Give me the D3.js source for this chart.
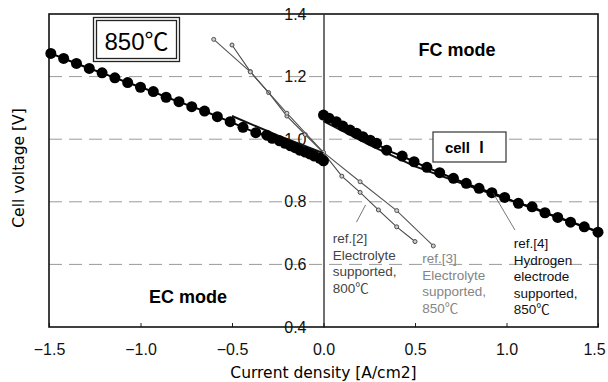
<!DOCTYPE html>
<html>
<head>
<meta charset="utf-8">
<script src="https://cdn.jsdelivr.net/npm/d3@7"></script>
<style>
  body { margin: 0; background: #fff; }
  svg { display: block; font-family: 'Liberation Sans', Arial, 'Noto Sans CJK JP', sans-serif; }
  .title { font-family: 'DejaVu Sans', sans-serif; font-size: 15.5px; }
  .tick text { font-size: 16px; fill: #111; }
</style>
</head>
<body>
<svg id="chart" width="608" height="382"></svg>
<script>
// DATA
const xTicks = [-1.5, -1.0, -0.5, 0.0, 0.5, 1.0, 1.5];
const yTicks = [0.4, 0.6, 0.8, 1.0, 1.2, 1.4];
const gridTicks = [0.6, 0.8, 1.0, 1.2];

// cell I, EC mode (negative current)
const cellEcCurrent = [-1.49, -1.42, -1.35, -1.28, -1.21, -1.14, -1.07, -1.0, -0.93, -0.86, -0.79, -0.72,
  -0.65, -0.58, -0.51, -0.44, -0.37, -0.31, -0.28, -0.24, -0.21, -0.18, -0.155, -0.13, -0.1, -0.075,
  -0.05, -0.02, 0];
const cellEcVoltage = [1.274, 1.258, 1.242, 1.226, 1.212, 1.196, 1.181, 1.166, 1.152, 1.134, 1.12, 1.104,
  1.09, 1.072, 1.056, 1.038, 1.021, 1.013, 1.003, 0.995, 0.987, 0.979, 0.973, 0.965, 0.959, 0.953,
  0.946, 0.939, 0.931];

// cell I, FC mode
const cellFcCurrent = [0, 0.03, 0.07, 0.105, 0.145, 0.18, 0.215, 0.255, 0.29, 0.345, 0.43, 0.495, 0.565,
  0.635, 0.71, 0.78, 0.85, 0.92, 0.99, 1.065, 1.14, 1.21, 1.28, 1.35, 1.425, 1.5];
const cellFcVoltage = [1.077, 1.067, 1.056, 1.042, 1.029, 1.019, 1.008, 0.997, 0.987, 0.965, 0.946, 0.928,
  0.91, 0.893, 0.875, 0.859, 0.843, 0.829, 0.814, 0.795, 0.784, 0.765, 0.75, 0.735, 0.72, 0.703];

// ref.[2] electrolyte supported, 800C
const ref2Current = [-0.5, -0.4, -0.3, -0.2, -0.1, 0, 0.1, 0.2, 0.3, 0.4, 0.5];
const ref2Voltage = [1.301, 1.216, 1.149, 1.074, 1.015, 0.956, 0.882, 0.83, 0.774, 0.72, 0.673];

// ref.[3] electrolyte supported, 850C
const ref3Current = [-0.6, -0.4, -0.2, 0, 0.2, 0.4, 0.6];
const ref3Voltage = [1.319, 1.215, 1.083, 0.958, 0.864, 0.772, 0.659];

// ref.[4] hydrogen electrode supported, 850C
const ref4EcCurrent = [-0.5, -0.25, 0];
const ref4EcVoltage = [1.074, 1.012, 0.955];
const ref4FcCurrent = [0, 0.25, 0.5, 0.75, 1.0, 1.25, 1.5];
const ref4FcVoltage = [1.058, 0.982, 0.913, 0.86, 0.809, 0.757, 0.705];

// leader lines [current, voltage]
const ref2Pointer = [[0.23, 0.79], [0.18, 0.735]];
const ref4Pointer = [[0.928, 0.827], [1.046, 0.71]];

const ref2Lines = ['ref.[2]', 'Electrolyte', 'supported,', '800℃'];
const ref3Lines = ['ref.[3]', 'Electrolyte', 'supported,', '850℃'];
const ref4Lines = ['ref.[4]', 'Hydrogen', 'electrode', 'supported,', '850℃'];

// SETUP
const svg = d3.select('#chart'),
  margin = { top: 14, right: 10, bottom: 55, left: 49 },
  width = +svg.attr('width') - margin.left - margin.right,
  height = +svg.attr('height') - margin.top - margin.bottom;

const x = d3.scaleLinear().domain([-1.5, 1.5]).range([0, width]);
const y = d3.scaleLinear().domain([0.4, 1.4]).range([height, 0]);

const zip = (xs, ys) => xs.map((d, i) => ({ c: d, v: ys[i] }));
const line = d3.line().x(d => x(d.c)).y(d => y(d.v));

const g = svg.append('g')
  .attr('transform', 'translate(' + margin.left + ',' + margin.top + ')');

// GRID
g.selectAll('.grid')
  .data(gridTicks)
  .enter()
  .append('line')
  .attr('class', 'grid')
  .attr('x1', 0)
  .attr('x2', width)
  .attr('y1', d => y(d))
  .attr('y2', d => y(d))
  .attr('stroke', '#9a9a9a')
  .attr('stroke-width', 1)
  .attr('stroke-dasharray', '13,7');

// AXES
g.append('g')
  .attr('transform', 'translate(0,' + height + ')')
  .call(d3.axisBottom(x).tickValues(xTicks).tickFormat(d3.format('.1f'))
    .tickSizeInner(-4).tickSizeOuter(0).tickPadding(17))
  .call(a => a.select('.domain').remove())
  .call(a => a.selectAll('line').attr('stroke', '#222'))
  .call(a => a.selectAll('.tick text').filter(d => d === 1.5).attr('dx', -4));

g.append('g')
  .attr('transform', 'translate(' + x(0) + ',0)')
  .call(d3.axisLeft(y).tickValues(yTicks).tickFormat(d3.format('.1f'))
    .tickSizeInner(0).tickSizeOuter(0).tickPadding(17))
  .call(a => a.select('.domain').attr('stroke', '#111').attr('stroke-width', 1.2));

// FRAME
g.append('rect')
  .attr('width', width)
  .attr('height', height)
  .attr('fill', 'none')
  .attr('stroke', '#111')
  .attr('stroke-width', 1.6);

// REFERENCE CURVES
[[ref2Current, ref2Voltage, '#4a4a4a'], [ref3Current, ref3Voltage, '#555']].forEach(([cs, vs, col]) => {
  const pts = zip(cs, vs);
  g.append('path').datum(pts)
    .attr('d', line).attr('fill', 'none')
    .attr('stroke', col).attr('stroke-width', 1.1);
  g.selectAll(null).data(pts).enter().append('circle')
    .attr('cx', d => x(d.c)).attr('cy', d => y(d.v)).attr('r', 2)
    .attr('fill', '#ccc').attr('stroke', col).attr('stroke-width', 1);
});

[[ref4EcCurrent, ref4EcVoltage], [ref4FcCurrent, ref4FcVoltage]].forEach(([cs, vs]) => {
  g.append('path').datum(zip(cs, vs))
    .attr('d', line).attr('fill', 'none')
    .attr('stroke', '#111').attr('stroke-width', 2);
});

// CELL I
[[cellEcCurrent, cellEcVoltage], [cellFcCurrent, cellFcVoltage]].forEach(([cs, vs]) => {
  const pts = zip(cs, vs);
  g.append('path').datum(pts)
    .attr('d', line).attr('fill', 'none')
    .attr('stroke', '#000').attr('stroke-width', 2);
  g.selectAll(null).data(pts).enter().append('circle')
    .attr('cx', d => x(d.c)).attr('cy', d => y(d.v)).attr('r', 5.5)
    .attr('fill', '#000');
});

// LEADER LINES
[ref2Pointer, ref4Pointer].forEach(p => {
  g.append('line')
    .attr('x1', x(p[0][0])).attr('y1', y(p[0][1]))
    .attr('x2', x(p[1][0])).attr('y2', y(p[1][1]))
    .attr('stroke', '#555').attr('stroke-width', 0.8);
});

// ANNOTATIONS
function block(lines, cx, y0, step, col, size) {
  const t = g.append('text')
    .attr('x', x(cx)).attr('y', y0)
    .attr('fill', col).style('font-size', size + 'px');
  lines.forEach((s, i) => {
    t.append('tspan').attr('x', x(cx)).attr('dy', i ? step : 0).text(s);
  });
}
block(ref2Lines, 0.05, 243 - margin.top, 16.5, '#444', 13.5);
block(ref3Lines, 0.54, 263 - margin.top, 16.5, '#858585', 13.5);
block(ref4Lines, 1.04, 248 - margin.top, 16.5, '#111', 13.5);

g.append('text')
  .attr('x', 457 - margin.left).attr('y', 56 - margin.top)
  .attr('text-anchor', 'middle')
  .style('font-size', '18px').style('font-weight', 'bold')
  .text('FC mode');

g.append('text')
  .attr('x', 188 - margin.left).attr('y', 303 - margin.top)
  .attr('text-anchor', 'middle')
  .style('font-size', '18px').style('font-weight', 'bold')
  .text('EC mode');

// cell I box
g.append('rect')
  .attr('x', 433 - margin.left).attr('y', 132 - margin.top)
  .attr('width', 73).attr('height', 30)
  .attr('fill', '#fff').attr('stroke', '#333').attr('stroke-width', 1.2);
const cellLabel = g.append('text')
  .attr('x', 467 - margin.left).attr('y', 153 - margin.top)
  .attr('text-anchor', 'middle')
  .style('font-size', '15px').style('font-weight', 'bold');
cellLabel.append('tspan').text('cell  ');
cellLabel.append('tspan').style('font-family', "'Noto Sans CJK JP', sans-serif").text('Ⅰ');

// 850C box
g.append('rect')
  .attr('x', 93.5 - margin.left).attr('y', 17.5 - margin.top)
  .attr('width', 86).attr('height', 44)
  .attr('fill', '#fff').attr('stroke', '#222').attr('stroke-width', 1.3);
g.append('rect')
  .attr('x', 96.5 - margin.left).attr('y', 20.5 - margin.top)
  .attr('width', 80).attr('height', 38)
  .attr('fill', 'none').attr('stroke', '#222').attr('stroke-width', 1.3);
g.append('text')
  .attr('x', 136.5 - margin.left).attr('y', 50 - margin.top)
  .attr('text-anchor', 'middle')
  .style('font-size', '24px')
  .text('850℃');

// AXIS TITLES
svg.append('text')
  .attr('class', 'title')
  .attr('x', margin.left + x(0)).attr('y', 378)
  .attr('text-anchor', 'middle')
  .text('Current density [A/cm2]');

svg.append('text')
  .attr('class', 'title')
  .attr('transform', 'translate(24,168)rotate(-90)')
  .attr('text-anchor', 'middle')
  .text('Cell voltage [V]');
</script>
</body>
</html>
